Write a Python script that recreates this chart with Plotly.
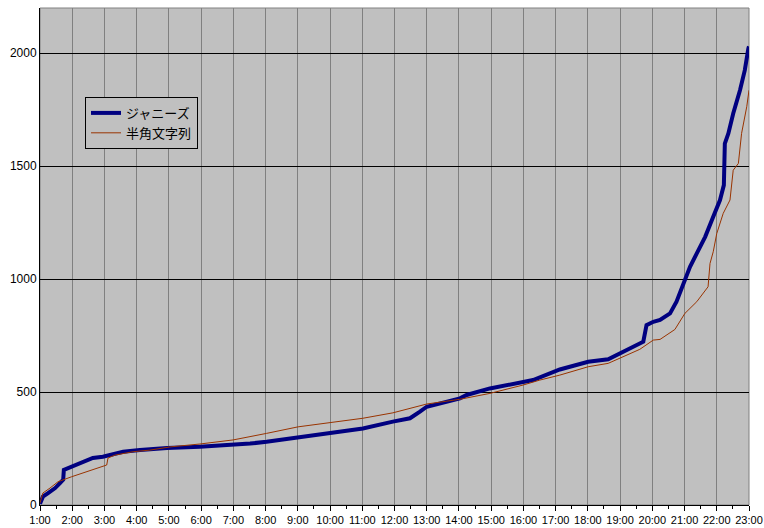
import plotly.graph_objects as go

hour_labels = [f"{h}:00" for h in range(1, 24)]
hour_ticks = list(range(1, 24))

johnny_hours = [1.0, 1.09, 1.25, 1.47, 1.62, 1.70, 1.72, 1.74, 1.98, 2.45, 2.64, 2.95, 3.58, 4.10,
                4.94, 5.96, 6.99, 7.52, 8.03, 9.01, 10.0, 11.02, 11.95, 12.48, 12.79, 13.0, 14.03,
                14.24, 14.96, 15.79, 16.30, 17.13, 18.01, 18.63, 18.99, 19.61, 19.72, 19.82, 20.03,
                20.24, 20.55, 20.75, 21.01, 21.17, 21.38, 21.64, 21.89, 22.10, 22.22, 22.25, 22.36,
                22.51, 22.72, 22.87, 22.98, 23.0]
johnny_values = [5, 37, 53, 75, 97, 108, 112, 155, 170, 199, 208, 214, 236, 243,
                 252, 258, 265, 272, 280, 299, 321, 339, 369, 384, 413, 435, 472,
                 487, 516, 538, 553, 600, 634, 645, 671, 715, 723, 796, 811,
                 819, 848, 900, 996, 1054, 1114, 1187, 1276, 1350, 1416, 1600, 1645,
                 1733, 1836, 1925, 2021, 2030]

hankaku_hours = [1.0, 1.09, 1.31, 1.56, 1.98, 2.45, 2.86, 3.07, 3.11, 3.33, 3.89, 4.41, 5.03,
                 5.96, 6.99, 7.52, 8.03, 9.01, 10.0, 11.02, 11.95, 12.48, 13.0, 14.03, 14.96,
                 15.99, 16.51, 17.13, 18.01, 18.63, 18.99, 19.61, 20.03, 20.24, 20.70, 21.01,
                 21.38, 21.42, 21.73, 21.79, 21.89, 22.0, 22.2, 22.41, 22.51, 22.67, 22.77,
                 22.93, 23.0]
hankaku_values = [9, 53, 75, 103, 125, 147, 168, 177, 208, 221, 236, 243, 257,
                  270, 288, 302, 317, 346, 366, 384, 408, 428, 447, 468, 494,
                  531, 553, 575, 612, 627, 649, 689, 730, 733, 777, 848,
                  900, 907, 966, 1069, 1121, 1202, 1291, 1350, 1482, 1512, 1645,
                  1763, 1836]

y_ticks = [0, 500, 1000, 1500, 2000]

fig = go.Figure()
fig.add_trace(go.Scatter(x=johnny_hours, y=johnny_values, mode="lines", name="ジャニーズ",
                         line=dict(color="#000080", width=4)))
fig.add_trace(go.Scatter(x=hankaku_hours, y=hankaku_values, mode="lines", name="半角文字列",
                         line=dict(color="#993300", width=1)))

fig.update_layout(
    template="none",
    width=764, height=528,
    margin=dict(l=40, r=15, t=8, b=23),
    paper_bgcolor="white",
    plot_bgcolor="#C0C0C0",
    font=dict(family="Liberation Sans, Arial, sans-serif", size=12, color="black"),
    showlegend=True,
    legend=dict(x=0.0635, y=0.821, xanchor="left", yanchor="top",
                bgcolor="#C0C0C0", bordercolor="black", borderwidth=1,
                font=dict(family="Noto Sans CJK JP", size=13, color="black"),
                tracegroupgap=0, itemwidth=30),
    xaxis=dict(range=[1, 23], tickvals=hour_ticks, ticktext=hour_labels, automargin=False,
               showgrid=True, gridcolor="#808080", gridwidth=1,
               showline=True, linecolor="black", linewidth=1,
               ticks="outside", ticklen=5, tickcolor="black",
               minor=dict(dtick=0.5, tick0=1, ticks="outside", ticklen=3, tickcolor="black", showgrid=False),
               zeroline=False, tickfont=dict(size=11)),
    yaxis=dict(range=[0, 2200], tickvals=y_ticks, automargin=False,
               showgrid=True, gridcolor="black", gridwidth=1,
               showline=True, linecolor="black", linewidth=1,
               ticks="", zeroline=False, tickfont=dict(size=12)),
)
fig.add_shape(type="rect", xref="paper", yref="paper", x0=0, x1=1, y0=0, y1=1,
              line=dict(color="#808080", width=1), layer="below")

fig.write_html("out.html", config={"displayModeBar": False},
               post_script="document.body.style.margin='0';document.body.style.overflow='hidden';")
